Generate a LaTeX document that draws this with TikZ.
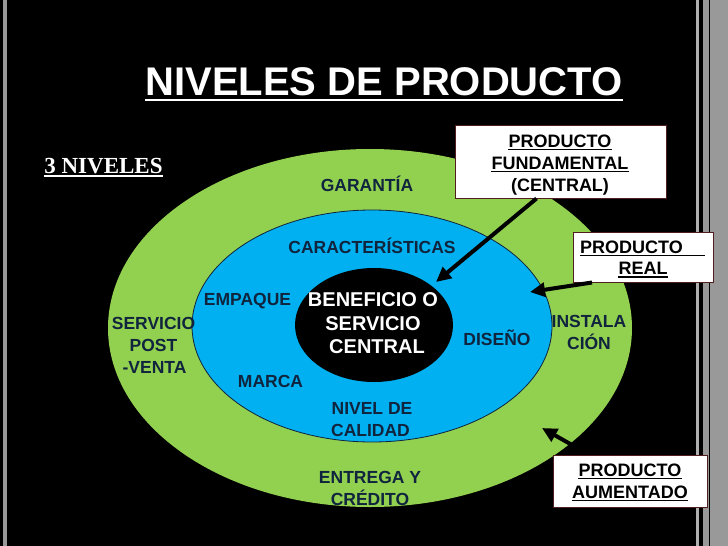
\documentclass[tikz,border=0pt]{standalone}
\usepackage{fontspec}
\setmainfont{Liberation Sans}
\newfontfamily\serifb{Liberation Serif}
\usetikzlibrary{arrows.meta,calc}
\definecolor{lgreen}{RGB}{146,208,80}
\definecolor{lblue}{RGB}{0,176,240}
\definecolor{navy}{RGB}{16,36,62}
\definecolor{frgray}{RGB}{153,153,153}
\definecolor{frlight}{RGB}{175,175,175}
\definecolor{boxline}{RGB}{80,30,30}
\begin{document}
\begin{tikzpicture}[x=1pt,y=-1pt,
  lbl/.style={anchor=base,inner sep=0pt,text=navy,font=\fontsize{17.5}{20}\selectfont\bfseries},
  wlbl/.style={anchor=base,inner sep=0pt,text=white,font=\fontsize{20}{24}\selectfont\bfseries},
  btxt/.style={anchor=base,inner sep=0pt,text=black,font=\fontsize{18}{21}\selectfont\bfseries},
  callout/.style={draw=boxline,line width=1pt,fill=white,inner sep=0pt},
  pointer/.style={line width=4pt,-{Triangle[length=15pt,width=14pt]}},
  uline/.style={line width=1.5pt}
]
\useasboundingbox (0,0) rectangle (728,546);
\fill[black] (0,0) rectangle (728,546);
% frame
\fill[frgray] (3,0) rectangle (6.5,546);
\fill[frlight] (696,0) rectangle (699,546);
\fill[frgray] (703.3,0) rectangle (708.7,546);
\fill[frgray] (710,0) rectangle (728,546);
% ellipses
\fill[lgreen] (370,328) ellipse [x radius=262pt, y radius=179pt];
\filldraw[fill=lblue, draw=navy, line width=0.8pt] (372,326) ellipse [x radius=180pt, y radius=116pt];
\fill[black] (374,325) ellipse [x radius=79pt, y radius=57pt];
% title
\node[anchor=base,inner sep=0pt,text=white,font=\fontsize{40}{44}\selectfont\bfseries] (title) at (384,95) {NIVELES DE PRODUCTO};
\draw[white,line width=2.5pt] ([yshift=-5pt]title.base west) -- ([yshift=-5pt]title.base east);
\node[anchor=base,inner sep=0pt,text=white,font=\serifb\fontsize{23}{26}\selectfont\bfseries] (lev) at (103.5,173) {3 NIVELES};
\draw[white,uline] ([yshift=-3pt]lev.base west) -- ([yshift=-3pt]lev.base east);
% green ring labels
\node[lbl] (gar) at (367,191) {GARANTÍA};
\node[lbl] (sv1) at (153.5,329) {SERVICIO};
\node[lbl] (sv2) at (153.5,351) {POST};
\node[lbl] (sv3) at (154.5,373) {-VENTA};
\node[lbl] (in1) at (589,327) {INSTALA};
\node[lbl] (in2) at (589,349) {CIÓN};
\node[lbl] (en1) at (370,483) {ENTREGA Y};
\node[lbl] (en2) at (370,505) {CRÉDITO};
% blue ring labels
\node[lbl] (car) at (372,253.5) {CARACTERÍSTICAS};
\node[lbl] (emp) at (247.5,305) {EMPAQUE};
\node[lbl] (dis) at (497,345) {DISEÑO};
\node[lbl] (mar) at (270.5,387) {MARCA};
\node[lbl] (ni1) at (372,414) {NIVEL DE};
\node[lbl] (ni2) at (370.5,436) {CALIDAD};
% core labels
\node[wlbl] (be1) at (373,306) {BENEFICIO O};
\node[wlbl] (be2) at (373,330) {SERVICIO};
\node[wlbl] (be3) at (377,353) {CENTRAL};
% callout boxes
\node[callout, minimum width=211pt, minimum height=73pt] (fund) at (560.5,161.5) {};
\node[callout, minimum width=140pt, minimum height=50pt] (real) at (643,257) {};
\node[callout, minimum width=154pt, minimum height=52pt] (aum) at (630,481) {};
\node[btxt] (f1) at (560,147) {PRODUCTO};
\node[btxt] (f2) at (560,169) {FUNDAMENTAL};
\node[btxt] (f3) at (560,191) {(CENTRAL)};
\draw[uline] ([yshift=-2.5pt]f1.base west) -- ([yshift=-2.5pt]f1.base east);
\draw[uline] ([yshift=-2.5pt]f2.base west) -- ([yshift=-2.5pt]f2.base east);
\node[btxt] (r1) at (631.5,253) {PRODUCTO};
\node[btxt] (r2) at (643,274.5) {REAL};
\draw[uline] ([yshift=-2.5pt]r1.base west) -- ([yshift=-2.5pt,xshift=22pt]r1.base east);
\draw[uline] ([yshift=-2.5pt]r2.base west) -- ([yshift=-2.5pt]r2.base east);
\node[btxt] (a1) at (630,476) {PRODUCTO};
\node[btxt] (a2) at (630,498) {AUMENTADO};
\draw[uline] ([yshift=-2.5pt]a1.base west) -- ([yshift=-2.5pt]a1.base east);
\draw[uline] ([yshift=-2.5pt]a2.base west) -- ([yshift=-2.5pt]a2.base east);
% pointers
\coordinate (tipF) at (436,282);
\coordinate (tipR) at (530,292);
\coordinate (tipA) at (542,428);
\draw[pointer] ($(fund.south)+(-24,0)$) -- (tipF);
\draw[pointer] ($(real.south)+(-51,0)$) -- (tipR);
\draw[pointer] ($(aum.north)+(-57,-9)$) -- (tipA);
\end{tikzpicture}
\end{document}
